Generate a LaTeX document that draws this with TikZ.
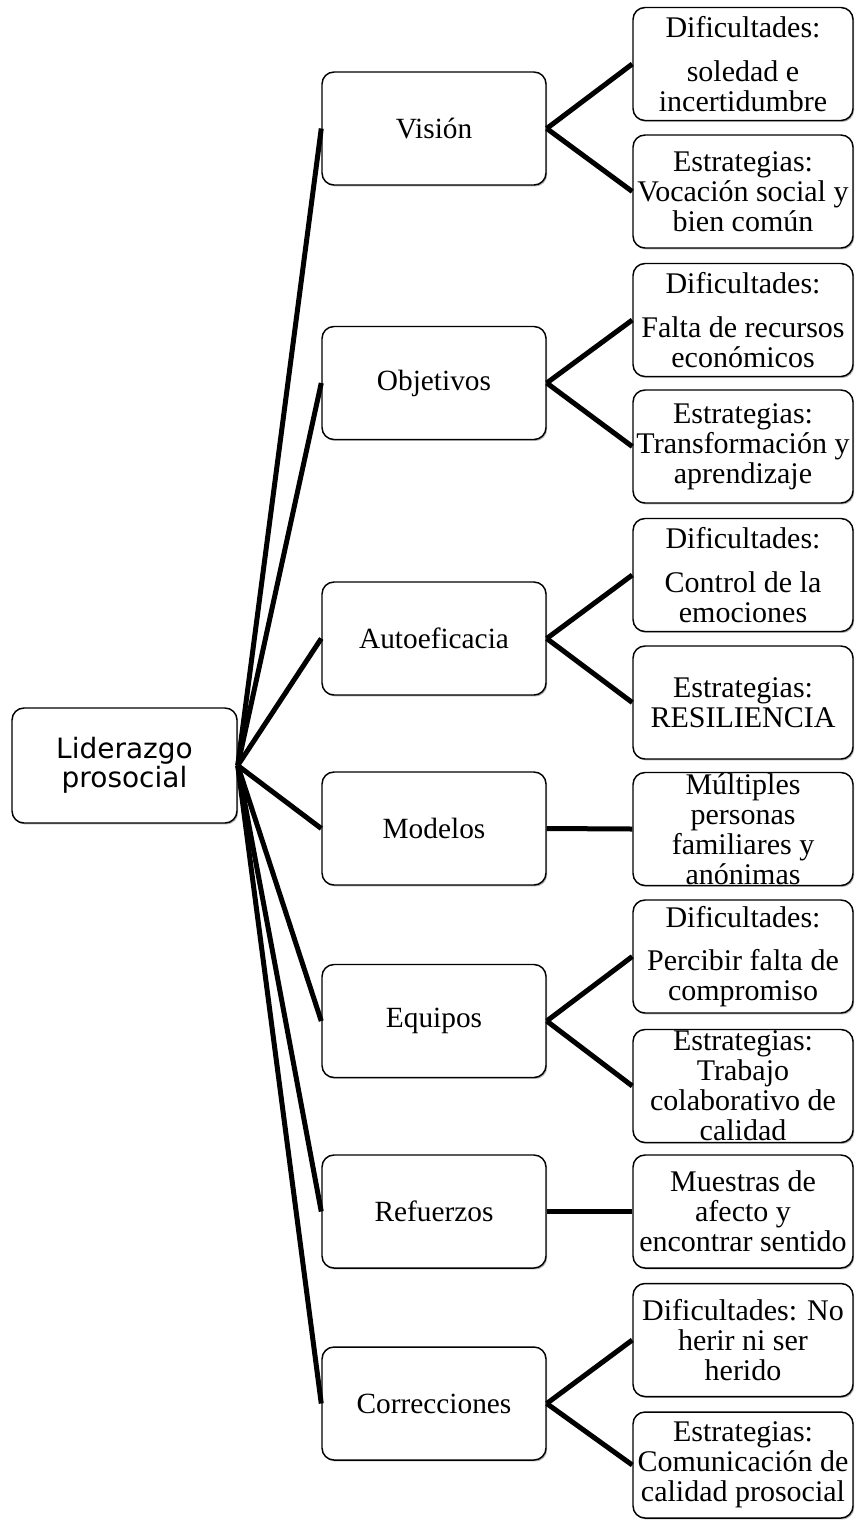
\documentclass[tikz,border=0pt]{standalone}
\usepackage{fontspec}
\setmainfont{Liberation Serif}
\newfontfamily\rootfont{DejaVu Sans}
\usetikzlibrary{shadows}
\begin{document}
\begin{tikzpicture}[x=0.75pt,y=-0.75pt,
  box/.style={draw, line width=1.1pt, rounded corners=9pt, fill=white, align=center, inner sep=0pt,
    drop shadow={shadow xshift=0.9pt, shadow yshift=-1.1pt, fill=black, opacity=0.3},
    font=\fontsize{22.5}{22.5}\selectfont},
  midbox/.style={box, minimum width=168pt, minimum height=84.75pt, font=\fontsize{22}{22.5}\selectfont},
  rbox/.style={box, minimum width=165pt, minimum height=84.75pt},
  rootbox/.style={box, minimum width=168.75pt, minimum height=86.25pt, font=\rootfont\fontsize{21}{22}\selectfont},
  conn/.style={line width=3.75pt}]
\useasboundingbox (0,0) rectangle (855,1521);
% root
\node[rootbox] (root) at (124.5,765.5) {Liderazgo\\prosocial};
% middle column
\node[midbox] (m1) at (434,128.5) {Visión};
\node[midbox] (m2) at (434,383) {Objetivos};
\node[midbox] (m3) at (434,638.5) {Autoeficacia};
\node[midbox] (m4) at (434,828.5) {Modelos};
\node[midbox] (m5) at (434,1021) {Equipos};
\node[midbox] (m6) at (434,1211.5) {Refuerzos};
\node[midbox] (m7) at (434,1403.5) {Correcciones};
% right column
\node[rbox] (r1) at (743,64) {Dificultades:\\[10pt]soledad e\\incertidumbre};
\node[rbox] (r2) at (743,191.5) {Estrategias:\\Vocación social y\\bien común};
\node[rbox] (r3) at (743,320) {Dificultades:\\[10pt]Falta de recursos\\económicos};
\node[rbox] (r4) at (743,446.5) {Estrategias:\\Transformación y\\aprendizaje};
\node[rbox] (r5) at (743,575) {Dificultades:\\[10pt]Control de la\\emociones};
\node[rbox] (r6) at (743,702.5) {Estrategias:\\RESILIENCIA};
\node[rbox] (r7) at (743,829) {Múltiples\\personas\\familiares y\\anónimas};
\node[rbox] (r8) at (743,956.5) {Dificultades:\\[10pt]Percibir falta de\\compromiso};
\node[rbox] (r9) at (743,1086) {Estrategias:\\Trabajo\\colaborativo de\\calidad};
\node[rbox] (r10) at (743,1211.5) {Muestras de\\afecto y\\encontrar sentido};
\node[rbox] (r11) at (743,1340) {Dificultades: No\\herir ni ser\\herido};
\node[rbox, minimum height=79.5pt] (r12) at (743,1465) {Estrategias:\\Comunicación de\\calidad prosocial};
% connectors root -> middle
\foreach \m in {m1,m2,m3,m4,m5,m6,m7}
  \draw[conn] (root.east) -- (\m.west);
% connectors middle -> right
\draw[conn] (m1.east) -- (r1.west);
\draw[conn] (m1.east) -- (r2.west);
\draw[conn] (m2.east) -- (r3.west);
\draw[conn] (m2.east) -- (r4.west);
\draw[conn] (m3.east) -- (r5.west);
\draw[conn] (m3.east) -- (r6.west);
\draw[conn] (m4.east) -- (r7.west);
\draw[conn] (m5.east) -- (r8.west);
\draw[conn] (m5.east) -- (r9.west);
\draw[conn] (m6.east) -- (r10.west);
\draw[conn] (m7.east) -- (r11.west);
\draw[conn] (m7.east) -- (r12.west);
\end{tikzpicture}
\end{document}
